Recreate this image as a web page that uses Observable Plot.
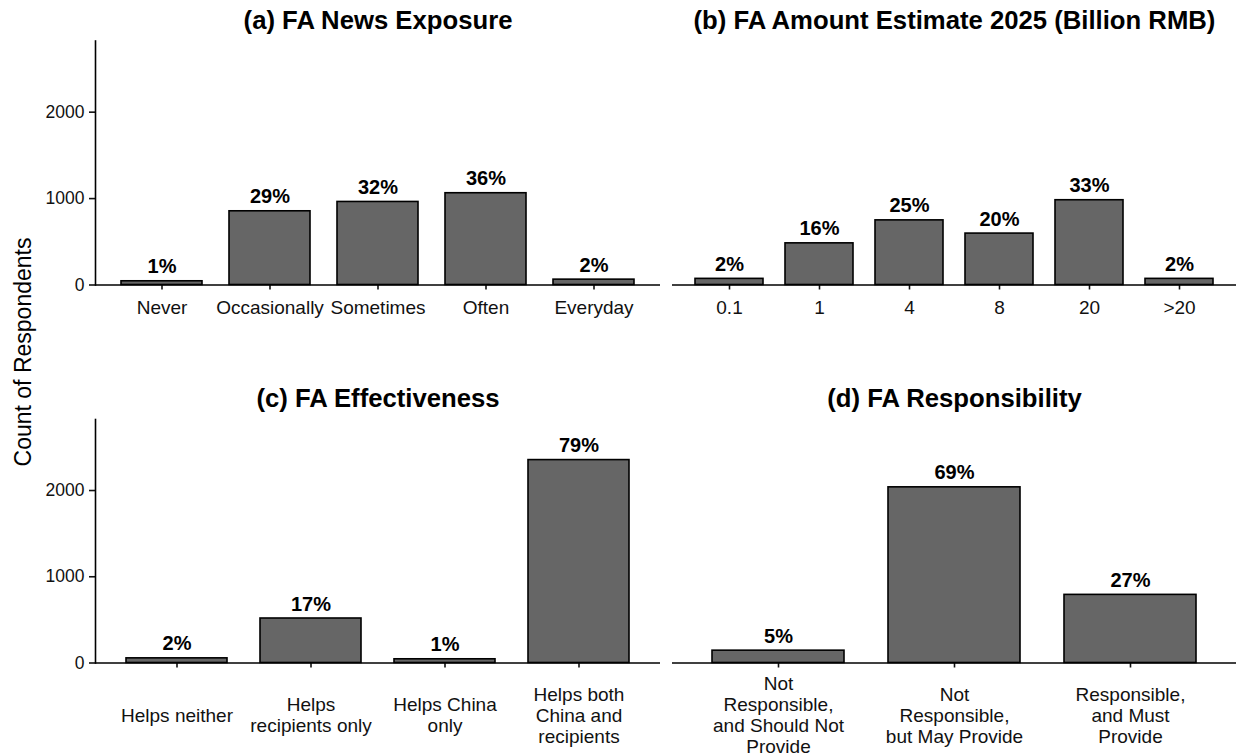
<!DOCTYPE html>
<html>
<head>
<meta charset="utf-8">
<script src="https://cdn.jsdelivr.net/npm/d3@7"></script>
<script src="https://cdn.jsdelivr.net/npm/@observablehq/plot@0.6"></script>
<style>
  html, body { margin: 0; padding: 0; background: #fff; }
  #chart { position: relative; width: 1238px; height: 755px; font-family: "Liberation Sans", Arial, Helvetica, sans-serif; }
  #chart svg { position: absolute; overflow: visible; }
</style>
</head>
<body>
<div id="chart"></div>
<script>
// Survey responses on foreign aid (FA): counts of respondents per answer.
const exposureLabels = ["Never", "Occasionally", "Sometimes", "Often", "Everyday"];
const exposureCounts = [43, 853, 961, 1062, 62];

const amountLabels = ["0.1", "1", "4", "8", "20", ">20"];
const amountCounts = [71, 482, 748, 595, 981, 71];

const effectLabels = ["Helps neither", "Helps\nrecipients only", "Helps China\nonly", "Helps both\nChina and\nrecipients"];
const effectCounts = [54, 516, 43, 2353];

const respLabels = ["Not\nResponsible,\nand Should Not\nProvide", "Not\nResponsible,\nbut May Provide", "Responsible,\nand Must\nProvide"];
const respCounts = [143, 2037, 790];

const panelTitles = [
  "(a) FA News Exposure",
  "(b) FA Amount Estimate 2025 (Billion RMB)",
  "(c) FA Effectiveness",
  "(d) FA Responsibility"
];
const yTicks = [0, 1000, 2000];
const yTitle = "Count of Respondents";

const FONT = '"Liberation Sans", Arial, Helvetica, sans-serif';
const INK = "#111111";

// Shared count axis across all four panels, with headroom above the tallest bar.
const yMax = d3.max([...exposureCounts, ...amountCounts, ...effectCounts, ...respCounts]) * 1.2;

function rows(labels, counts) {
  const total = d3.sum(counts);
  return labels.map((label, i) => ({
    label,
    count: counts[i],
    pct: Math.round(counts[i] / total * 100) + "%"
  }));
}

function panel({labels, counts, title, left, top, width, height, margin, showY, bottomRow}) {
  const data = rows(labels, counts);
  const svg = Plot.plot({
    width, height,
    marginLeft: margin.left, marginRight: margin.right,
    marginTop: margin.top, marginBottom: margin.bottom,
    style: {fontFamily: FONT, color: INK, background: "transparent", overflow: "visible"},
    x: {type: "band", domain: labels, paddingInner: 0.25, paddingOuter: 0.225, align: 0.5, label: null},
    y: {domain: [0, yMax], label: null, axis: showY ? undefined : null},
    marks: [
      Plot.barY(data, {x: "label", y: "count", fill: "#666666", stroke: "#000", strokeWidth: 1.6}),
      Plot.text(data, {
        x: "label", y: "count", text: "pct", lineAnchor: "bottom", dy: -8,
        fontSize: 20, fontWeight: "bold", fill: "#000"
      }),
      Plot.axisX({
        tickSize: 5, strokeWidth: 1.6, fontSize: 19, fill: INK, label: null,
        lineHeight: 1.1,
        lineAnchor: bottomRow ? "middle" : "top",
        tickPadding: bottomRow ? 47 : 9
      }),
      showY ? Plot.axisY({
        ticks: yTicks, tickFormat: d => String(d), tickSize: 6, tickPadding: 5,
        strokeWidth: 1.6, fontSize: 17.5, fill: INK, label: null
      }) : null,
      showY ? Plot.frame({anchor: "left", stroke: "#000", strokeWidth: 1.6}) : null,
      Plot.ruleY([0], {stroke: "#000", strokeWidth: 1.6}),
      Plot.text([title], {
        frameAnchor: "top", lineAnchor: "bottom", dy: bottomRow ? -13 : -12,
        fontSize: 25.7, fontWeight: "bold", fill: "#000"
      })
    ]
  });
  svg.style.left = left + "px";
  svg.style.top = top + "px";
  return svg;
}

const chart = document.getElementById("chart");
const leftCol = {left: 0, width: 664, ml: 95, mr: 4};
const rightCol = {left: 664, width: 574, ml: 8, mr: 2};
const topRow = {top: 0, height: 330, mt: 40.5, mb: 45.5};
const botRow = {top: 330, height: 425, mt: 89, mb: 92.5};

const specs = [
  [exposureLabels, exposureCounts, panelTitles[0], leftCol, topRow, true, false],
  [amountLabels, amountCounts, panelTitles[1], rightCol, topRow, false, false],
  [effectLabels, effectCounts, panelTitles[2], leftCol, botRow, true, true],
  [respLabels, respCounts, panelTitles[3], rightCol, botRow, false, true]
];

for (const [labels, counts, title, col, row, showY, bottomRow] of specs) {
  chart.appendChild(panel({
    labels, counts, title,
    left: col.left, top: row.top, width: col.width, height: row.height,
    margin: {left: col.ml, right: col.mr, top: row.mt, bottom: row.mb},
    showY, bottomRow
  }));
}

// Shared y-axis title, centred between the two rows.
const overlay = d3.create("svg")
  .attr("width", 1238).attr("height", 755)
  .style("left", "0px").style("top", "0px")
  .style("pointer-events", "none");
overlay.append("text")
  .attr("transform", "translate(30.5,352) rotate(-90)")
  .attr("text-anchor", "middle")
  .attr("font-family", FONT)
  .attr("font-size", 23)
  .attr("fill", "#000")
  .text(yTitle);
chart.appendChild(overlay.node());
</script>
</body>
</html>
